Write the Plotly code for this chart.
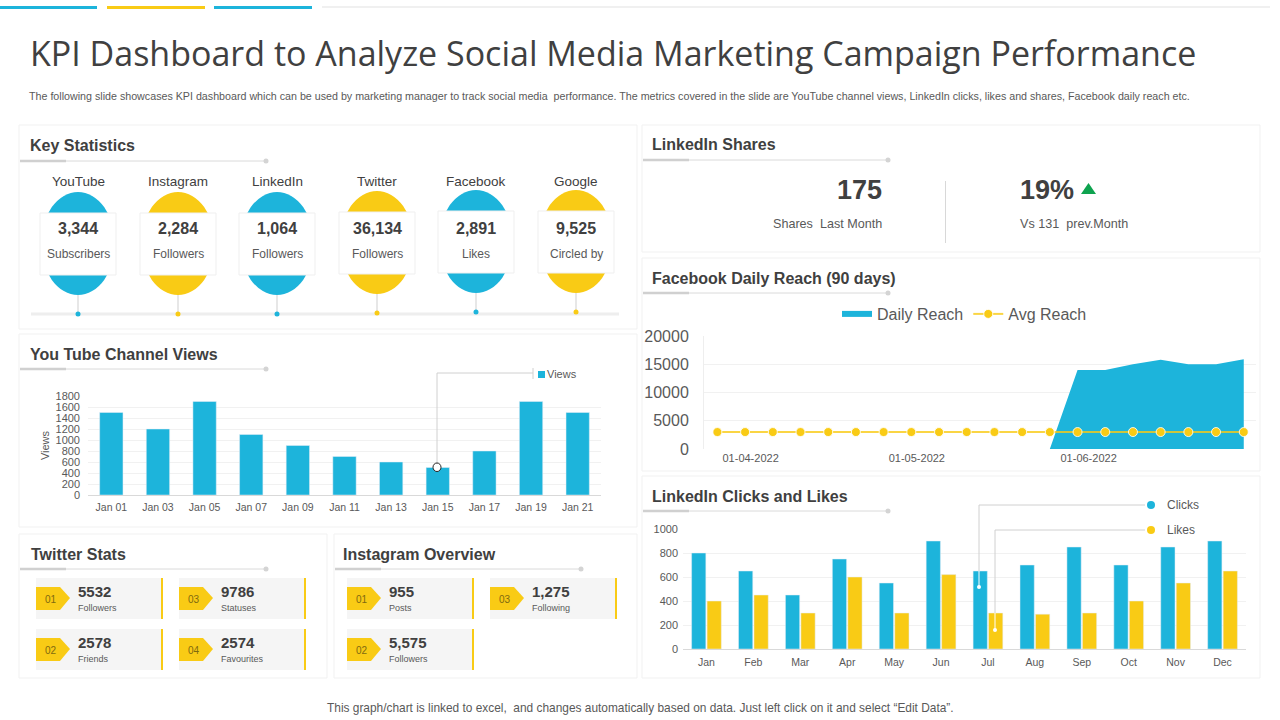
import plotly.graph_objects as go

BLUE = "#1DB4DB"
YELLOW = "#F9CB15"
DARK = "#404040"
GREY = "#595959"
FONT = "Liberation Sans"

# key statistics
platforms = ["YouTube", "Instagram", "LinkedIn", "Twitter", "Facebook", "Google"]
platform_values = ["3,344", "2,284", "1,064", "36,134", "2,891", "9,525"]
platform_labels = ["Subscribers", "Followers", "Followers", "Followers", "Likes", "Circled by"]

# youtube channel views
yt_days = ["Jan 01", "Jan 03", "Jan 05", "Jan 07", "Jan 09", "Jan 11", "Jan 13", "Jan 15", "Jan 17", "Jan 19", "Jan 21"]
yt_views = [1500, 1200, 1700, 1100, 900, 700, 600, 500, 800, 1700, 1500]

# facebook reach
fb_dates = ["2022-03-26", "2022-03-31", "2022-04-05", "2022-04-10", "2022-04-15", "2022-04-20", "2022-04-25",
            "2022-04-30", "2022-05-05", "2022-05-10", "2022-05-15", "2022-05-20", "2022-05-25", "2022-05-30",
            "2022-06-04", "2022-06-09", "2022-06-14", "2022-06-19", "2022-06-24", "2022-06-29"]
fb_reach = [0, 0, 0, 0, 0, 0, 0, 0, 0, 0, 0, 0, 0, 14000, 14000, 15000, 15800, 15000, 15000, 15900]
fb_avg = [3000] * 20

# linkedin clicks and likes
months = ["Jan", "Feb", "Mar", "Apr", "May", "Jun", "Jul", "Aug", "Sep", "Oct", "Nov", "Dec"]
clicks = [800, 650, 450, 750, 550, 900, 650, 700, 850, 700, 850, 900]
likes = [400, 450, 300, 600, 300, 620, 300, 290, 300, 400, 550, 650]

# twitter / instagram tiles
twitter_values = ["5532", "2578", "9786", "2574"]
twitter_labels = ["Followers", "Friends", "Statuses", "Favourites"]
insta_values = ["955", "5,575", "1,275"]
insta_labels = ["Posts", "Followers", "Following"]
tile_numbers = ["01", "02", "03", "04"]


def px(x):
    return x / 1280


def py(y):
    return 1 - y / 720


shapes = []
notes = []


def rect(x0, y0, x1, y1, fill, line=None, layer="below"):
    shapes.append(dict(type="rect", xref="paper", yref="paper", x0=px(x0), x1=px(x1), y0=py(y0), y1=py(y1),
                       fillcolor=fill, line=dict(color=line or fill, width=1 if line else 0), layer=layer))


def oval(x0, y0, x1, y1, fill, layer="above"):
    shapes.append(dict(type="circle", xref="paper", yref="paper", x0=px(x0), x1=px(x1), y0=py(y0), y1=py(y1),
                       fillcolor=fill, line=dict(width=0), layer=layer))


def seg(x0, y0, x1, y1, color="#D0D0D0", width=1, layer="above"):
    shapes.append(dict(type="line", xref="paper", yref="paper", x0=px(x0), x1=px(x1), y0=py(y0), y1=py(y1),
                       line=dict(color=color, width=width), layer=layer))


def poly(points, fill):
    path = "M " + " L ".join(f"{px(a):.5f},{py(b):.5f}" for a, b in points) + " Z"
    shapes.append(dict(type="path", xref="paper", yref="paper", path=path, fillcolor=fill, line=dict(width=0)))


def label(x, y, s, size=12, color=GREY, anchor="left", bold=False, family=FONT):
    if anchor == "left":
        x -= 2
    notes.append(dict(xref="paper", yref="paper", x=px(x), y=py(y), text=f"<b>{s}</b>" if bold else s,
                      showarrow=False, xanchor=anchor, yanchor="middle",
                      font=dict(family=family, size=size, color=color)))


def panel(x0, y0, x1, y1, title, tx, ty, ly, lx1):
    rect(x0, y0, x1, y1, "#FFFFFF", "#F1F1F1")
    label(tx, ty, title, 16, DARK, bold=True)
    seg(x0 + 1, ly, lx1, ly, "#DADADA", 1)
    seg(x0 + 1, ly, x0 + 47, ly, "#D0D0D0", 2.5)
    oval(lx1 - 2.5, ly - 2.5, lx1 + 2.5, ly + 2.5, "#D4D4D4")


# top strip
rect(0, 6, 97, 9, BLUE)
rect(107, 6, 205, 9, YELLOW)
rect(214, 6, 312, 9, BLUE)
rect(322, 6, 1270, 8, "#F0F0F0")

label(30, 53, "KPI Dashboard to Analyze Social Media Marketing Campaign Performance", 34, DARK, family="Open Sans")
label(29, 96, "The following slide showcases KPI dashboard which can be used by marketing manager to track social media  "
      "performance. The metrics covered in the slide are YouTube channel views, LinkedIn clicks, likes and shares, "
      "Facebook daily reach etc.", 10.7, GREY)
label(640, 708, "This graph/chart is linked to excel,  and changes automatically based on data. Just left click on it "
      "and select \u201cEdit Data\u201d.", 11.9, GREY, anchor="center")

panel(19, 125, 637, 329, "Key Statistics", 30, 146, 161, 266)
panel(19, 334, 637, 527, "You Tube Channel Views", 30, 354, 369, 266)
panel(19, 534, 327, 678, "Twitter Stats", 31, 554, 569, 266)
panel(334, 534, 637, 678, "Instagram Overview", 343, 554, 569, 581)
panel(642, 125, 1260, 252, "LinkedIn Shares", 652, 145, 160, 888)
panel(642, 258, 1260, 471, "Facebook Daily Reach (90 days)", 652, 278, 293, 888)
panel(642, 476, 1260, 678, "LinkedIn Clicks and Likes", 652, 496, 511, 888)

# key statistic bubbles
centers = [78, 178, 277, 377, 476, 576]
drift = [0, 0, 0, -1, -2, -2]
seg(31, 314, 619, 314, "#EEEEEE", 3)
for i, name in enumerate(platforms):
    c = centers[i]
    d = drift[i]
    col = BLUE if i % 2 == 0 else YELLOW
    label(c, 181, name, 13.5, DARK, anchor="center")
    oval(c - 37, 192 + d, c + 37, 295 + d, col)
    rect(c - 38, 213 + d, c + 38, 275 + d, "#FFFFFF", "#EFEFEF", layer="above")
    label(c, 228, platform_values[i], 16, DARK, anchor="center", bold=True)
    label(c, 254, platform_labels[i], 12, GREY, anchor="center")
    seg(c, 295 + d, c, 313 + d, "#CFCFCF", 1)
    oval(c - 2.5, 311.5 + d, c + 2.5, 316.5 + d, col)


def tile(x, y, num, value, name):
    rect(x, y, x + 127, y + 41, "#F5F5F5")
    rect(x + 125, y, x + 127, y + 41, YELLOW)
    poly([(x, y + 9), (x + 24, y + 9), (x + 34, y + 20), (x + 24, y + 32), (x, y + 32)], YELLOW)
    label(x + 15, y + 21, num, 10, "#7F6A10", anchor="center")
    label(x + 42, y + 13, value, 15, DARK, bold=True)
    label(x + 42, y + 30, name, 9, GREY)


twitter_pos = [(36, 578), (36, 629), (179, 578), (179, 629)]
for i, val in enumerate(twitter_values):
    tile(twitter_pos[i][0], twitter_pos[i][1], tile_numbers[i], val, twitter_labels[i])
insta_pos = [(347, 578), (347, 629), (490, 578)]
for i, val in enumerate(insta_values):
    tile(insta_pos[i][0], insta_pos[i][1], tile_numbers[i], val, insta_labels[i])

# linkedin shares
label(859.5, 190, "175", 27, DARK, anchor="center", bold=True)
label(827, 224, "Shares  Last Month", 12.6, GREY, anchor="center")
seg(945.5, 181, 945.5, 243, "#D8D8D8", 1)
label(1020, 190, "19%", 27, DARK, bold=True)
poly([(1081, 194), (1096, 194), (1088.5, 183)], "#0EA34F")
label(1020, 224, "Vs 131  prev.Month", 12.6, GREY)

# callouts
seg(437, 467, 437, 373)
seg(437, 373, 533, 373)
seg(533, 368, 533, 379)
shapes.append(dict(type="circle", xref="paper", yref="paper", x0=px(433), x1=px(441), y0=py(463), y1=py(471.5),
                   fillcolor="#FFFFFF", line=dict(color="#222222", width=1)))
rect(538, 371, 545, 378, BLUE, layer="above")
label(547, 374, "Views", 11, GREY)

seg(979, 505, 1145, 505)
seg(979, 505, 979, 571)
seg(979, 571, 979, 587, "#FFFFFF")
oval(977, 585, 981, 589, "#FFFFFF")
seg(995, 530, 1145, 530)
seg(995, 530, 995, 613)
seg(995, 613, 995, 630, "#FFFFFF")
oval(993, 628, 997, 632, "#FFFFFF")
oval(1147, 501, 1155, 509, BLUE)
oval(1147, 526, 1155, 534, YELLOW)
label(1167, 505, "Clicks", 12, GREY)
label(1167, 530, "Likes", 12, GREY)

fig = go.Figure()
fig.add_trace(go.Bar(x=yt_days, y=yt_views, name="Views", marker_color=BLUE, width=0.5, xaxis="x", yaxis="y",
                     showlegend=False))
fig.add_trace(go.Scatter(x=fb_dates, y=fb_reach, name="Daily Reach", mode="none", fill="tozeroy", fillcolor=BLUE,
                         xaxis="x2", yaxis="y2"))
fig.add_trace(go.Scatter(x=fb_dates, y=fb_avg, name="Avg Reach", mode="lines+markers",
                         line=dict(color="rgba(249,203,21,0.8)", width=2),
                         marker=dict(color=YELLOW, size=9, line=dict(color="rgba(255,255,255,0.85)", width=1)),
                         xaxis="x2", yaxis="y2"))
fig.add_trace(go.Bar(x=months, y=clicks, name="Clicks", marker_color=BLUE, xaxis="x3", yaxis="y3", showlegend=False))
fig.add_trace(go.Bar(x=months, y=likes, name="Likes", marker_color=YELLOW, xaxis="x3", yaxis="y3", showlegend=False))

tick_small = dict(family=FONT, size=10.5, color=GREY)
grid = "#F1F1F1"

fig.update_layout(
    width=1280, height=720, margin=dict(l=0, r=0, t=0, b=0), paper_bgcolor="#FFFFFF", plot_bgcolor="rgba(0,0,0,0)",
    barmode="group", bargap=0.34, bargroupgap=0.08, font=dict(family=FONT, color=GREY),
    shapes=shapes, annotations=notes,
    xaxis=dict(domain=[px(88), px(601)], anchor="y", tickfont=tick_small, showline=True, linecolor="#D9D9D9",
               showgrid=False, ticks="", automargin=False, ticklabelstandoff=2),
    yaxis=dict(domain=[py(495), py(396)], anchor="x", range=[0, 1800], dtick=200, gridcolor=grid,
               tickfont=dict(family=FONT, size=11, color=GREY), zeroline=False, automargin=False, ticklabelstandoff=7,
               title=dict(text="Views", font=dict(family=FONT, size=11, color=GREY), standoff=3)),
    xaxis2=dict(domain=[px(704), px(1256)], anchor="y2", type="date", range=["2022-03-23 14:00", "2022-07-01 05:00"],
                tickvals=["2022-04-01", "2022-05-01", "2022-06-01"], tickformat="%d-%m-%Y",
                tickfont=dict(family=FONT, size=11, color=GREY), showgrid=False, showline=False, ticks="",
                automargin=False, ticklabelstandoff=1),
    yaxis2=dict(domain=[py(449), py(336)], anchor="x2", range=[0, 20000], dtick=5000, gridcolor=grid, zeroline=False,
                showline=True, linecolor="#EEEEEE", tickformat="d", tickfont=dict(family=FONT, size=16, color=GREY),
                automargin=False, ticklabelstandoff=11),
    xaxis3=dict(domain=[px(683), px(1246)], anchor="y3", tickfont=tick_small, showline=True, linecolor="#D9D9D9",
                showgrid=False, ticks="", automargin=False, ticklabelstandoff=3),
    yaxis3=dict(domain=[py(649), py(529)], anchor="x3", range=[0, 1000], dtick=200, gridcolor=grid, zeroline=False,
                tickfont=dict(family=FONT, size=11, color=GREY), automargin=False, ticklabelstandoff=4),
    legend=dict(orientation="h", x=px(837), y=py(314), xanchor="left", yanchor="middle",
                font=dict(family=FONT, size=16, color=GREY), bgcolor="rgba(0,0,0,0)"),
)

fig.write_html("out.html", config={"displayModeBar": False},
               post_script="document.body.style.margin='0';document.body.style.overflow='hidden';")
